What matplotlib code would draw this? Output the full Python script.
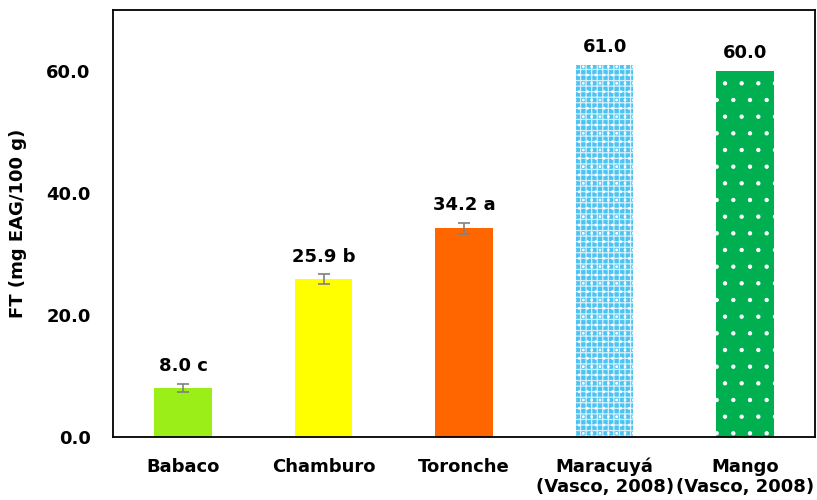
import matplotlib.pyplot as plt
import numpy as np

# Fenoles totales por fruta
frutas = ["Babaco", "Chamburo", "Toronche", "Maracuyá\n(Vasco, 2008)", "Mango\n(Vasco, 2008)"]
ft = [8.0, 25.9, 34.2, 61.0, 60.0]
err = [0.7, 0.8, 0.9, 0.0, 0.0]
letras = ["c", "b", "a", "", ""]
colores = ["#9BEE17", "#FFFF00", "#FF6600", "#4CC3F1", "#00B050"]
patrones = [None, None, None, "+++", "."]
color_trama = [None, None, None, "#D6F1FD", "white"]
grosor_trama = [1.0, 1.0, 1.0, 0.9, 0.7]
yticks = [0, 20, 40, 60]

plt.rcParams["font.family"] = "DejaVu Sans"
plt.rcParams["font.weight"] = "bold"

fig = plt.figure(figsize=(8.17, 5.0), dpi=100)
ax = fig.add_axes([0.138, 0.126, 0.86, 0.854])

x = np.arange(len(frutas))
for i in range(len(frutas)):
    plt.rcParams["hatch.linewidth"] = grosor_trama[i]
    ax.bar(x[i], ft[i], width=0.41, color=colores[i], hatch=patrones[i],
           edgecolor=color_trama[i] or colores[i], linewidth=0, zorder=2)
    if err[i] > 0:
        ax.errorbar(x[i], ft[i], yerr=err[i], fmt="none", ecolor="#808080",
                    elinewidth=1.2, capsize=4, capthick=1.2, zorder=3)
    txt = f"{ft[i]:.1f}" + (f" {letras[i]}" if letras[i] else "")
    ax.text(x[i], ft[i] + err[i] + 1.4, txt, ha="center", va="bottom",
            fontsize=13, fontweight="bold")

# destellos blancos sobre la trama de maracuyá
plt.rcParams["hatch.linewidth"] = 0.8
ax.bar(x[3], ft[3], width=0.41, color="none", hatch="..", edgecolor="white",
       linewidth=0, zorder=2.5)

ax.set_xlim(-0.5, len(frutas) - 0.5)
ax.set_ylim(0, 70)
ax.set_yticks(yticks)
ax.set_yticklabels([f"{v:.1f}" for v in yticks], fontsize=13, fontweight="bold")
ax.set_xticks(x)
ax.set_xticklabels(frutas, fontsize=13, fontweight="bold", linespacing=1.15)
ax.tick_params(axis="x", length=0, pad=15)
ax.tick_params(axis="y", length=0, pad=16)
ax.set_ylabel("FT (mg EAG/100 g)", fontsize=13, fontweight="bold", labelpad=14)

for s in ax.spines.values():
    s.set_linewidth(1.3)
    s.set_color("black")

fig.savefig("out.png", dpi=100)
